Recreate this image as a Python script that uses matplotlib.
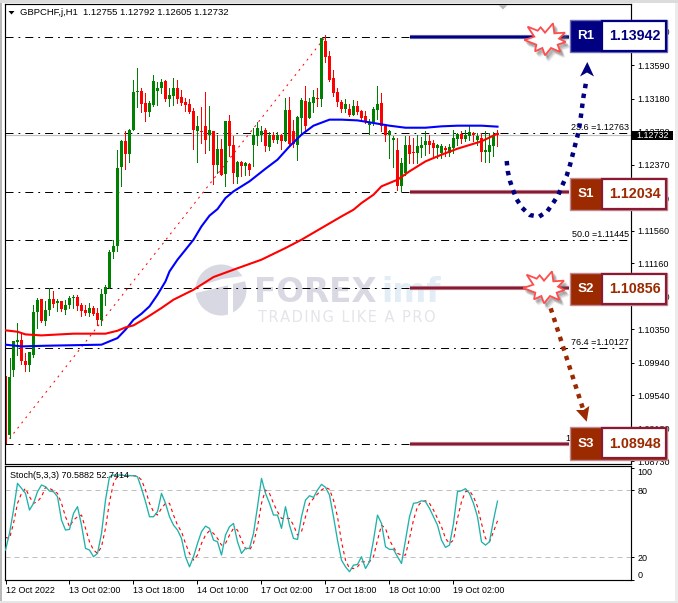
#!/usr/bin/env python3
"""GBPCHF H1 chart with fibo levels, support/resistance boxes and stochastic."""

import matplotlib

matplotlib.use("Agg")
import matplotlib.pyplot as plt
from matplotlib.patches import Circle, Polygon, Rectangle
from matplotlib.transforms import Affine2D

W, H = 678, 603
FONT = "Liberation Sans"
NAVY = "#000080"
BROWN = "#9c2a00"
WINE = "#8a1a34"

opens = [
    1.09324, 1.09058, 1.09856, 1.10191, 1.10224, 1.09958, 1.09917, 1.10040, 1.10559, 1.10723,
    1.10449, 1.10592, 1.10723, 1.10670, 1.10703, 1.10592, 1.10645, 1.10731, 1.10752, 1.10653,
    1.10592, 1.10551, 1.10617, 1.10551, 1.10469, 1.10788, 1.10858, 1.11296, 1.11369, 1.12339,
    1.12666, 1.12506, 1.12801, 1.13263, 1.13275, 1.13128, 1.13022, 1.13104, 1.13279, 1.13308,
    1.13394, 1.13181, 1.13218, 1.13316, 1.13194, 1.13140, 1.13120, 1.13034, 1.12789, 1.12785,
    1.12838, 1.12740, 1.12780, 1.12371, 1.12568, 1.12261, 1.12911, 1.12605, 1.12224, 1.12400,
    1.12351, 1.12384, 1.12617, 1.12719, 1.12740, 1.12801, 1.12588, 1.12731, 1.12674, 1.12735,
    1.12658, 1.13046, 1.12780, 1.12617, 1.12940, 1.13153, 1.12948, 1.13132, 1.13189, 1.13177,
    1.13885, 1.13701, 1.13427, 1.13263, 1.13140, 1.13058, 1.13058, 1.12985, 1.13095, 1.13025,
    1.12964, 1.12854, 1.12890, 1.13046, 1.13128, 1.12841, 1.12739, 1.12674, 1.12555, 1.12113,
    1.12269, 1.12616, 1.12522, 1.12514, 1.12576, 1.12609, 1.12654, 1.12638, 1.12576, 1.12515,
    1.12576, 1.12515, 1.12576, 1.12691, 1.12752, 1.12691, 1.12719, 1.12760, 1.12679, 1.12699,
    1.12523, 1.12527, 1.12597, 1.12755,
]
closes = [
    1.08977, 1.09766, 1.10204, 1.10224, 1.09958, 1.09917, 1.10073, 1.10563, 1.10715, 1.10457,
    1.10592, 1.10723, 1.10666, 1.10703, 1.10600, 1.10653, 1.10735, 1.10748, 1.10641, 1.10580,
    1.10555, 1.10613, 1.10543, 1.10469, 1.10788, 1.10866, 1.11300, 1.11377, 1.12331, 1.12662,
    1.12506, 1.12801, 1.13267, 1.13279, 1.13120, 1.13022, 1.13132, 1.13402, 1.13316, 1.13386,
    1.13181, 1.13230, 1.13316, 1.13173, 1.13132, 1.13104, 1.13022, 1.12793, 1.12838, 1.12768,
    1.12670, 1.12789, 1.12371, 1.12568, 1.12249, 1.12911, 1.12596, 1.12269, 1.12400, 1.12351,
    1.12388, 1.12310, 1.12731, 1.12825, 1.12780, 1.12596, 1.12731, 1.12678, 1.12731, 1.12666,
    1.13046, 1.12629, 1.12629, 1.12952, 1.13169, 1.12842, 1.13144, 1.13194, 1.13173, 1.13926,
    1.13688, 1.13414, 1.13251, 1.13136, 1.13058, 1.13120, 1.12976, 1.13095, 1.13017, 1.12944,
    1.12903, 1.12890, 1.13058, 1.13120, 1.12841, 1.12739, 1.12780, 1.12694, 1.12113, 1.12391,
    1.12616, 1.12506, 1.12510, 1.12596, 1.12617, 1.12658, 1.12617, 1.12576, 1.12609, 1.12597,
    1.12548, 1.12589, 1.12699, 1.12740, 1.12691, 1.12732, 1.12769, 1.12732, 1.12719, 1.12527,
    1.12544, 1.12605, 1.12719, 1.12732,
]
highs = [
    1.09774, 1.09999, 1.10212, 1.10428, 1.10306, 1.10060, 1.10073, 1.10653, 1.10735, 1.10723,
    1.10694, 1.10858, 1.10825, 1.10723, 1.10703, 1.10715, 1.10756, 1.10776, 1.10776, 1.10674,
    1.10653, 1.10674, 1.10633, 1.10613, 1.10846, 1.10899, 1.11328, 1.11451, 1.12555, 1.12670,
    1.12780, 1.12809, 1.13414, 1.13558, 1.13312, 1.13251, 1.13149, 1.13476, 1.13382, 1.13427,
    1.13414, 1.13312, 1.13435, 1.13414, 1.13284, 1.13189, 1.13177, 1.13067, 1.12973, 1.13079,
    1.13259, 1.13095, 1.12789, 1.12740, 1.12686, 1.12911, 1.12985, 1.12719, 1.12421, 1.12412,
    1.12400, 1.12388, 1.12821, 1.12891, 1.12842, 1.12821, 1.12772, 1.12772, 1.12772, 1.12748,
    1.13189, 1.13198, 1.12924, 1.12964, 1.13189, 1.13341, 1.13189, 1.13292, 1.13312, 1.13926,
    1.13967, 1.13762, 1.13537, 1.13312, 1.13169, 1.13181, 1.13115, 1.13169, 1.13156, 1.13046,
    1.13025, 1.12931, 1.13079, 1.13332, 1.13250, 1.12841, 1.12800, 1.12719, 1.12698, 1.12453,
    1.12727, 1.12719, 1.12698, 1.12739, 1.12711, 1.12781, 1.12740, 1.12679, 1.12630, 1.12630,
    1.12605, 1.12630, 1.12801, 1.12760, 1.12781, 1.12801, 1.12850, 1.12769, 1.12760, 1.12760,
    1.12781, 1.12760, 1.12769, 1.12792,
]
lows = [
    1.08956, 1.09017, 1.09774, 1.10040, 1.09930, 1.09835, 1.09835, 1.10011, 1.10367, 1.10437,
    1.10408, 1.10531, 1.10621, 1.10580, 1.10572, 1.10543, 1.10613, 1.10613, 1.10584, 1.10510,
    1.10531, 1.10510, 1.10531, 1.10408, 1.10408, 1.10653, 1.10858, 1.11226, 1.11316, 1.12114,
    1.12322, 1.12404, 1.12801, 1.13079, 1.13014, 1.12911, 1.12973, 1.13095, 1.13104, 1.13251,
    1.13149, 1.13087, 1.13108, 1.13128, 1.13099, 1.13034, 1.13005, 1.12568, 1.12400, 1.12637,
    1.12515, 1.12555, 1.12138, 1.12269, 1.12249, 1.12114, 1.12474, 1.12146, 1.12146, 1.12228,
    1.12241, 1.12249, 1.12351, 1.12609, 1.12658, 1.12543, 1.12555, 1.12645, 1.12637, 1.12568,
    1.12658, 1.12596, 1.12588, 1.12433, 1.12760, 1.12780, 1.12948, 1.13014, 1.13087, 1.13087,
    1.13631, 1.13394, 1.13218, 1.13087, 1.13017, 1.13017, 1.12964, 1.12976, 1.12993, 1.12923,
    1.12882, 1.12747, 1.12854, 1.12931, 1.12780, 1.12666, 1.12453, 1.12342, 1.12064, 1.12052,
    1.12248, 1.12391, 1.12391, 1.12391, 1.12462, 1.12495, 1.12515, 1.12454, 1.12454, 1.12454,
    1.12482, 1.12474, 1.12515, 1.12617, 1.12638, 1.12658, 1.12679, 1.12658, 1.12617, 1.12413,
    1.12405, 1.12405, 1.12474, 1.12605,
]

blue_ma_bars = [0, 4, 10, 24, 26, 28, 30, 32, 34, 36, 38, 40, 41, 43, 45, 47, 49, 51, 53, 55, 57,
                61, 65, 68, 71, 74, 77, 81, 84, 88, 92, 96, 100, 105, 109, 113, 119, 123]
blue_ma = [1.10163, 1.10142, 1.10150, 1.10163, 1.10204, 1.10244, 1.10347, 1.10469, 1.10543,
           1.10633, 1.10776, 1.10940, 1.11062, 1.11206, 1.11328, 1.11451, 1.11615, 1.11746,
           1.11827, 1.11962, 1.12044, 1.12167, 1.12322, 1.12433, 1.12596, 1.12740, 1.12850,
           1.12924, 1.12924, 1.12915, 1.12883, 1.12850, 1.12825, 1.12825, 1.12842, 1.12850,
           1.12850, 1.12838]
red_ma_bars = [0, 3, 5, 9, 12, 17, 25, 28, 30, 32, 34, 36, 39, 42, 47, 52, 57, 64, 70, 74, 79, 84,
               87, 89, 92, 94, 98, 101, 105, 109, 113, 119, 123]
red_ma = [1.10339, 1.10322, 1.10289, 1.10277, 1.10285, 1.10298, 1.10298, 1.10334, 1.10375,
          1.10400, 1.10457, 1.10518, 1.10613, 1.10715, 1.10837, 1.10993, 1.11083, 1.11206,
          1.11349, 1.11451, 1.11594, 1.11737, 1.11819, 1.11901, 1.12003, 1.12106, 1.12187,
          1.12290, 1.12412, 1.12494, 1.12568, 1.12658, 1.12752]

stoch_main = [
    26.6, 41.5, 62.4, 86.3, 81.8, 77.3, 62.4, 68.4, 78.8, 84.8,
    83.3, 79.4, 78.8, 74.3, 53.4, 44.5, 45.1, 59.4, 65.4, 48.9,
    28.1, 26.6, 20.6, 23.6, 41.5, 71.3, 92.2, 93.7, 93.7, 93.7,
    93.1, 93.1, 93.1, 92.2, 81.8, 69.9, 56.4, 56.4, 60.9, 77.3,
    68.4, 56.4, 48.9, 44.5, 37.0, 20.6, 11.6, 20.6, 32.5, 43.0,
    48.0, 46.0, 35.5, 34.0, 22.1, 40.0, 47.5, 50.4, 34.0, 23.6,
    28.1, 28.1, 41.5, 65.4, 90.7, 77.3, 68.4, 57.9, 57.9, 46.0,
    65.4, 48.9, 37.0, 36.1, 56.4, 71.3, 75.2, 73.7, 80.3, 85.4,
    82.7, 75.8, 56.4, 35.5, 17.6, 11.6, 7.2, 13.1, 13.7, 20.6,
    10.1, 16.1, 35.5, 57.9, 50.4, 29.6, 27.2, 27.2, 20.6, 14.6,
    35.5, 56.4, 68.4, 69.0, 70.7, 69.9, 63.9, 56.4, 48.9, 35.5,
    29.0, 31.0, 50.4, 78.8, 79.7, 81.5, 77.3, 68.4, 56.4, 34.0,
    31.0, 34.0, 53.4, 70.4,
]
stoch_signal = [
    37.9, 37.0, 50.4, 68.4, 77.3, 81.8, 74.3, 68.4, 69.9, 74.3,
    82.7, 81.8, 79.7, 77.3, 68.4, 56.4, 47.5, 53.4, 56.4, 57.9,
    46.0, 34.0, 26.6, 23.6, 29.6, 46.0, 69.9, 86.3, 92.8, 93.7,
    93.4, 93.4, 93.1, 92.8, 89.3, 80.3, 68.4, 60.9, 57.9, 63.9,
    68.4, 68.4, 57.9, 48.9, 43.0, 32.5, 23.6, 17.6, 22.1, 32.5,
    40.0, 43.9, 41.5, 37.0, 31.0, 32.5, 40.0, 46.0, 44.5, 35.5,
    28.1, 26.6, 32.5, 47.5, 68.4, 80.3, 77.3, 68.4, 60.9, 54.9,
    54.9, 54.9, 48.9, 40.0, 43.0, 56.4, 68.4, 72.8, 76.7, 80.3,
    82.7, 80.9, 71.3, 56.4, 34.0, 17.6, 10.1, 10.1, 11.6, 16.1,
    16.1, 16.1, 20.6, 35.5, 48.9, 46.0, 35.5, 29.0, 23.6, 22.1,
    22.1, 37.0, 53.4, 65.4, 69.9, 70.7, 68.4, 62.4, 54.9, 47.5,
    37.0, 32.5, 35.5, 54.9, 69.9, 78.8, 79.7, 74.3, 65.4, 50.4,
    37.0, 34.0, 43.0, 52.7,
]

fibo_levels = [1.13942, 1.12034, 1.12763, 1.11445, 1.10856, 1.10127, 1.08948]
fibo_labels = [
    ("23.6 =1.12763", 1.12763), ("50.0 =1.11445", 1.11445), ("76.4 =1.10127", 1.10127),
    ("100.0 =1.08948", 1.08948),
]
fibo_start = (0, 1.08948)
fibo_end = (80, 1.13942)
last_price = 1.12732
price_ticks = [1.14000, 1.13590, 1.13180, 1.12780, 1.12370, 1.11960, 1.11560, 1.11160,
               1.10750, 1.10350, 1.09940, 1.09540, 1.09130, 1.08730]
time_ticks = [0, 16, 32, 48, 64, 80, 96, 112]
time_labels = ["12 Oct 2022", "13 Oct 02:00", "13 Oct 18:00", "14 Oct 10:00",
               "17 Oct 02:00", "17 Oct 18:00", "18 Oct 10:00", "19 Oct 02:00"]
stoch_ticks = [100, 80, 20, 0]
title = "GBPCHF,j,H1  1.12755 1.12792 1.12605 1.12732"
stoch_title = "Stoch(5,3,3) 70.5882 52.7414"
boxes = [("R1", "1.13942", 19.5), ("S1", "1.12034", 177.8), ("S2", "1.10856", 272.5), ("S3", "1.08948", 427.2)]
box_levels = [1.13942, 1.12034, 1.10856, 1.08948]

star_shape = [(-52, -40), (-22, -28), (-13, -38), (0, -22), (24, -50), (28, -20), (60, -22),
              (42, -4), (62, 6), (38, 14), (46, 36), (18, 24), (0, 46), (-8, 24), (-30, 34),
              (-26, 14), (-62, 0), (-32, -10)]
blue_path = [(506.7, 161), (507.7, 171), (510, 181), (513, 190), (516.7, 199.3), (522, 207.7),
             (529.7, 215), (539, 216.7), (547.3, 211.3), (553.3, 202.7), (558.3, 195),
             (562.3, 185.3), (566.7, 175.7), (570, 165), (572.3, 156), (574.7, 146.7),
             (577.3, 136.7), (579.3, 127.3), (580.7, 117.7), (582, 107.7), (583.3, 97.7),
             (585, 88.3), (586.7, 78.3)]
brown_path = [(550.7, 308.3), (584, 412)]


def main():
    plt.rcParams["font.family"] = [FONT, "DejaVu Sans"]
    fig = plt.figure(figsize=(W / 100, H / 100), dpi=100, facecolor="white")
    px = Affine2D().scale(1 / W, -1 / H).translate(0, 1) + fig.transFigure

    ax = fig.add_axes([4.5 / W, 1 - 464 / H, 626.2 / W, 460 / H])
    sub = fig.add_axes([4.5 / W, 1 - 580 / H, 626.2 / W, 114 / H])
    xlim = (-0.25, 156.3)

    # window frame
    fig.add_artist(Rectangle((0, 0), 1.7, H, transform=px, color="#b8b8b8", lw=0))
    fig.add_artist(Rectangle((675, 0), 3, H, transform=px, color="#ececec", lw=0))
    fig.add_artist(Rectangle((0, 600.5), W, 3, transform=px, color="#e6e6e6", lw=0))
    fig.add_artist(Rectangle((0, 0), W, 2.5, transform=px, color="#dcdcdc", lw=0))

    draw_watermark(ax, px)

    # levels under the candles
    ax.hlines(fibo_levels, *xlim, color="black", lw=0.72, linestyles=[(0, (8, 5, 1.8, 5))], zorder=1)
    ax.axhline(last_price, color="#c0c0c0", lw=0.85, zorder=1.1)
    ax.plot([fibo_start[0], fibo_end[0]], [fibo_start[1], fibo_end[1]], color="red", lw=0.72,
            linestyle=(0, (2, 4.5)), zorder=1.2)

    bars = range(len(opens))
    colors = ["#008000" if c >= o else "#ff0000" for o, c in zip(opens, closes)]
    ax.vlines(bars, lows, highs, colors=colors, lw=0.72, antialiased=False, zorder=2)
    ax.bar(bars, [abs(c - o) + 0.00002 for o, c in zip(opens, closes)],
           bottom=[min(o, c) for o, c in zip(opens, closes)],
           width=0.75, color=colors, lw=0, antialiased=False, zorder=2.1)
    ax.plot(blue_ma_bars, blue_ma, color="#0000ff", lw=1.5, zorder=3)
    ax.plot(red_ma_bars, red_ma, color="#ff0000", lw=1.5, zorder=3.1)

    ax.set_xlim(*xlim)
    ax.set_ylim(1.08699, 1.14343)
    ax.set_xticks([])
    ax.yaxis.tick_right()
    ax.set_yticks(price_ticks, [f"{t:.5f}" for t in price_ticks])
    ax.tick_params(axis="y", length=2.5, width=0.72, pad=2.2, labelsize=6.5)

    for text, level in fibo_labels:
        ax.text(xlim[1] - 0.4, level + 0.00012, text, ha="right", va="bottom", fontsize=6.5, zorder=1.5)
    ax.text(20, 12.5, title, transform=px, fontsize=6.8, va="center", zorder=6)
    ax.add_patch(Polygon([(8.5, 11), (14.5, 11), (11.5, 14.5)], transform=px, color="black", lw=0,
                         clip_on=False, zorder=6))
    ax.add_patch(Polygon([(498.5, 5), (507.5, 5), (503, 9.5)], transform=px, color="#b8b8b8", lw=0,
                         clip_on=False, zorder=6))

    # current price tag on the scale
    ax.add_patch(Rectangle((632, 130.7), 41, 9.6, transform=px, color="black", lw=0, clip_on=False, zorder=6))
    ax.text(636.7, 135.5, f"{last_price:.5f}", transform=px, color="white", fontsize=6.5,
            va="center", clip_on=False, zorder=7)

    draw_annotations(ax, px)
    draw_stoch(sub, xlim)

    for a in (ax, sub):
        for spine in a.spines.values():
            spine.set_linewidth(0.85)

    fig.savefig("out.png", dpi=100)


def draw_watermark(ax, px):
    ax.add_patch(Circle((221, 290), 25.5, transform=px, color="#d8d8e2", lw=0, zorder=0.5))
    ax.add_patch(Polygon([(193, 288), (222, 279), (250, 275), (250, 280), (225, 286), (196, 293)],
                         transform=px, color="white", lw=0, zorder=0.55))
    ax.add_patch(Polygon([(228, 283), (233, 281), (233, 318), (228, 318)],
                         transform=px, color="white", lw=0, zorder=0.55))
    ax.text(254, 292.5, "FOREX", transform=px, fontsize=23.5, fontweight="bold", color="#d9d9e3",
            va="center", family="DejaVu Sans", zorder=0.6)
    ax.text(381, 292.5, "imf", transform=px, fontsize=23.5, fontweight="bold", color="#e2edf5",
            va="center", family="DejaVu Sans", zorder=0.6)
    ax.text(258, 318, "\u200a".join("TRADING LIKE A PRO"), transform=px, fontsize=10.5, color="#e4e4ea",
            va="center", family="DejaVu Sans", zorder=0.6)


def draw_star(ax, px, cx, cy):
    pts = [(cx + dx / 3, cy + dy / 3) for dx, dy in star_shape]
    for off, alpha in ((4.0, 0.10), (3.0, 0.16), (2.0, 0.22)):
        shadow = [(x + off, y + off * 1.3) for x, y in pts]
        ax.add_patch(Polygon(shadow, transform=px, color="#666666", alpha=alpha, lw=1.5,
                             clip_on=False, zorder=8))
    ax.add_patch(Polygon(pts, transform=px, facecolor="white", edgecolor="#ff4d4d", lw=1.3,
                         clip_on=False, zorder=8.5))


def draw_annotations(ax, px):
    for (name, value, top), level in zip(boxes, box_levels):
        fill = NAVY if name == "R1" else BROWN
        edge = NAVY if name == "R1" else WINE
        halo = "#6f6fb8" if name == "R1" else "#c08a94"
        y = 4 + (1.14343 - level) * 8150
        ax.plot([410, 569], [y, y], transform=px, color=halo, lw=3.0, solid_capstyle="butt",
                clip_on=False, zorder=6.5)
        ax.plot([410, 569], [y, y], transform=px, color=edge, lw=1.7, solid_capstyle="butt",
                clip_on=False, zorder=6.6)
        ax.add_patch(Rectangle((569.5, top), 97.5, 32.5, transform=px, facecolor=fill, edgecolor=halo,
                               lw=1.0, clip_on=False, zorder=7))
        ax.add_patch(Rectangle((602, top + 1.2), 64, 30, transform=px, facecolor="white", edgecolor=edge,
                               lw=1.6, clip_on=False, zorder=7.1))
        ax.text(585.5, top + 16.4, name, transform=px, color="white", fontsize=9.6, fontweight="bold",
                ha="center", va="center", clip_on=False, zorder=7.2)
        ax.text(634.5, top + 16.4, value, transform=px, color=fill, fontsize=10.3, fontweight="bold",
                ha="center", va="center", clip_on=False, zorder=7.2)

    draw_star(ax, px, 545, 40)
    draw_star(ax, px, 544, 288)

    bx, by = zip(*blue_path)
    ax.plot(bx, by, transform=px, color=NAVY, lw=3.2, linestyle=(0, (1, 1.25)), dash_capstyle="butt",
            clip_on=False, zorder=7.5)
    ax.add_patch(Polygon([(587.3, 62), (594, 76.5), (587, 72.5), (580, 76.5)], transform=px, color=NAVY,
                         lw=0, clip_on=False, zorder=7.5))
    bx, by = zip(*brown_path)
    ax.plot(bx, by, transform=px, color=BROWN, lw=3.2, linestyle=(0, (1, 1.25)), dash_capstyle="butt",
            clip_on=False, zorder=7.5)
    ax.add_patch(Polygon([(586.7, 421.7), (576, 410), (583.5, 410), (589.3, 406)], transform=px, color=BROWN,
                         lw=0, clip_on=False, zorder=7.5))


def draw_stoch(sub, xlim):
    sub.axhline(80, color="#c0c0c0", lw=0.72, linestyle=(0, (5, 4)), zorder=1)
    sub.axhline(20, color="#c0c0c0", lw=0.72, linestyle=(0, (5, 4)), zorder=1)
    sub.plot(range(len(stoch_signal)), stoch_signal, color="red", lw=0.8, linestyle=(0, (3, 3)), zorder=2)
    sub.plot(range(len(stoch_main)), stoch_main, color="#20b2aa", lw=0.95, zorder=3)
    sub.set_xlim(*xlim)
    sub.set_ylim(-0.2, 101.8)
    sub.yaxis.tick_right()
    sub.set_yticks(stoch_ticks, [str(t) for t in stoch_ticks])
    sub.get_yticklabels()[0].set_verticalalignment("top")
    sub.get_yticklabels()[3].set_verticalalignment("bottom")
    sub.set_xticks(time_ticks, time_labels, ha="left")
    sub.tick_params(axis="y", length=2.5, width=0.72, pad=2.2, labelsize=6.5)
    sub.tick_params(axis="x", length=3, width=0.72, pad=1.5, labelsize=6.5)
    sub.text(0.008, 0.955, stoch_title, transform=sub.transAxes, fontsize=6.5, va="top")


if __name__ == "__main__":
    main()
